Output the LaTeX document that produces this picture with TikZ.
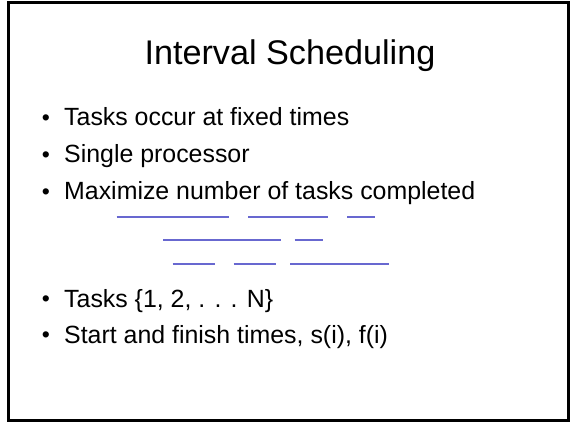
\documentclass[tikz,border=0pt]{standalone}
\usepackage{fontspec}
\setmainfont{Liberation Sans}
\definecolor{ivblue}{RGB}{104,104,208}
\begin{document}
\begin{tikzpicture}[x=1pt,y=-1pt,
  frame/.style={draw=black,line width=2.6pt},
  titletext/.style={anchor=base,inner sep=0pt,font=\fontsize{34.2}{40}\selectfont},
  bodytext/.style={anchor=base west,inner sep=0pt,font=\fontsize{24.9}{30}\selectfont},
  bulletmark/.style={anchor=base,inner sep=0pt,font=\fontsize{23}{27}\selectfont},
  interval/.style={draw=ivblue,line width=2pt}]
\useasboundingbox (0,0) rectangle (573,422);
\draw[frame] (8.7,2.5) rectangle (568.3,420.3);
\node[titletext] (title) at (290,65) {Interval Scheduling};
\foreach \y/\t/\n in {126/{Tasks occur at fixed times}/b1,
                      163/{Single processor}/b2,
                      200/{Maximize number of tasks completed}/b3,
                      307/{Tasks \{1, 2, . . . N\}}/b4,
                      343/{Start and finish times, s(i), f(i)}/b5}{
  \node[bulletmark] (\n m) at (46,\y-0.5) {•};
  \node[bodytext] (\n) at (64,\y) {\t};
}
% row 1
\draw[interval] (116.5,216.7) -- (229.3,216.7);
\draw[interval] (248.4,216.7) -- (328.2,216.7);
\draw[interval] (347.3,216.7) -- (375.1,216.7);
% row 2
\draw[interval] (163.3,240) -- (280.5,240);
\draw[interval] (294.7,240) -- (323,240);
% row 3
\draw[interval] (172.6,264) -- (215,264);
\draw[interval] (233.5,264) -- (276.2,264);
\draw[interval] (290.4,264) -- (389,264);
\end{tikzpicture}
\end{document}
